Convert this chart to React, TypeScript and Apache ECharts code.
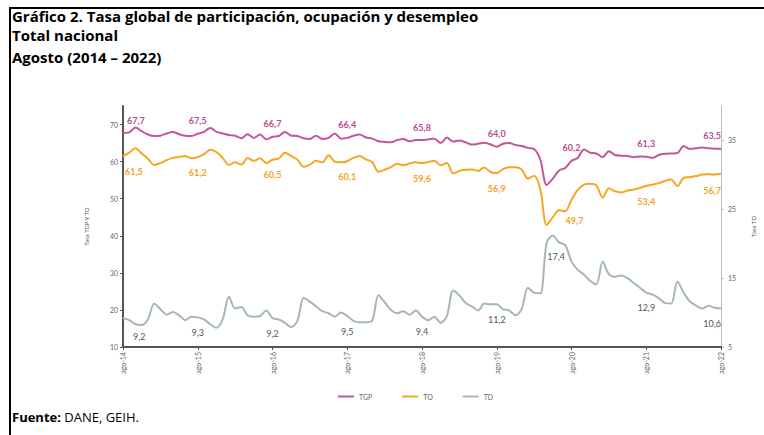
import React, { useEffect, useRef } from 'react';
import * as echarts from 'echarts';

const MONTHS = ['ene', 'feb', 'mar', 'abr', 'may', 'jun', 'jul', 'ago', 'sep', 'oct', 'nov', 'dic'];
const N_POINTS = 97;
const categories: string[] = [];
for (let i = 0; i < N_POINTS; i++) {
  const m = (7 + i) % 12;
  const y = 2014 + Math.floor((7 + i) / 12);
  categories.push(`${MONTHS[m]}-${String(y).slice(2)}`);
}

// Tasa global de participación (TGP), Aug 2014 – Aug 2022
const tgp = [
  67.7, 67.9, 69.2, 68.2, 67.3, 66.9, 67.0, 67.6, 68.0, 67.4, 67.0, 66.9,
  67.5, 68.0, 69.1, 68.0, 67.6, 67.2, 67.0, 66.3, 67.4, 66.4, 67.3, 66.0,
  66.7, 66.9, 68.0, 67.0, 66.9, 66.3, 66.1, 67.0, 66.1, 66.4, 67.6, 66.2,
  66.4, 67.0, 67.3, 66.5, 66.2, 65.5, 65.3, 65.2, 65.8, 66.1, 65.5, 65.8,
  65.8, 66.0, 66.2, 65.0, 66.5, 65.4, 65.7, 65.2, 64.6, 64.8, 65.1, 64.6,
  64.0, 64.8, 65.0, 64.5, 64.2, 63.7, 63.4, 60.5, 53.7, 55.4, 57.6, 58.3,
  60.2, 61.0, 63.3, 62.4, 62.2, 61.2, 62.8, 61.8, 61.6, 61.5, 61.2, 61.4,
  61.3, 61.0, 61.8, 62.1, 62.2, 62.3, 64.2, 63.4, 63.6, 63.8, 63.6, 63.5,
  63.5,
];

// Tasa de ocupación (TO)
const to = [
  61.5, 62.4, 63.6, 62.2, 60.8, 59.1, 59.6, 60.4, 61.0, 61.3, 61.5, 60.9,
  61.2, 62.0, 63.2, 62.6, 61.0, 59.1, 59.8, 59.2, 61.0, 60.2, 60.9, 59.6,
  60.5, 60.8, 62.4, 61.5, 60.5, 58.6, 59.2, 60.2, 59.8, 61.7, 60.0, 59.8,
  60.1, 61.0, 61.5, 60.6, 59.9, 57.3, 57.8, 58.5, 59.4, 59.0, 59.5, 59.8,
  59.6, 59.9, 60.2, 59.0, 59.6, 56.8, 57.5, 57.8, 57.9, 57.5, 58.4, 57.2,
  56.9, 58.0, 58.5, 58.5, 57.9, 55.4, 56.2, 52.5, 42.9, 45.0, 46.9, 46.6,
  49.7, 52.4, 53.8, 54.0, 53.6, 50.3, 52.8, 52.0, 51.7, 52.2, 52.5, 52.9,
  53.4, 53.8, 54.2, 54.8, 55.2, 53.4, 55.6, 55.8, 56.1, 56.5, 56.6, 56.5,
  56.7,
];

// Tasa de desempleo (TD)
const td = [
  9.2, 8.9, 8.3, 8.2, 9.0, 11.3, 10.5, 9.7, 10.1, 9.6, 8.9, 9.4,
  9.3, 9.0, 8.3, 7.8, 9.0, 12.3, 10.6, 10.8, 9.6, 9.4, 9.5, 10.3,
  9.2, 9.0, 8.5, 7.9, 8.8, 12.1, 11.6, 10.9, 10.2, 9.9, 9.4, 10.0,
  9.5, 8.8, 8.6, 8.6, 8.8, 12.5, 11.5, 10.4, 9.9, 10.2, 9.7, 10.3,
  9.4, 8.9, 9.4, 8.5, 9.5, 13.2, 12.5, 11.4, 10.9, 10.3, 11.3, 11.2,
  11.2, 10.5, 10.3, 9.6, 10.5, 13.6, 12.9, 12.8, 20.1, 21.2, 20.2, 19.8,
  17.4, 16.2, 15.5, 14.6, 14.1, 17.4, 15.6, 15.2, 15.4, 15.0, 14.3, 13.6,
  12.9, 12.6, 12.1, 11.4, 11.3, 14.5, 12.9, 11.6, 11.0, 10.6, 11.0, 10.7,
  10.6,
];

const FONT = 'Lato, "Open Sans", sans-serif';
const TFONT = '"Open Sans", Lato, sans-serif';
const fmt = (p: any) => Number(p.value).toFixed(1).replace('.', ',');

function withLabels(values: number[], base: any, overrides: Record<number, any>) {
  return values.map((v, i) => {
    if (i % 12 !== 0) return v;
    return { value: v, label: { show: true, formatter: fmt, ...base, ...(overrides[i] || {}) } };
  });
}

export default function App() {
  const ref = useRef<HTMLDivElement>(null);
  useEffect(() => {
    if (!ref.current) return;
    const chart = echarts.init(ref.current, undefined, { renderer: 'svg' });
    const last = N_POINTS - 1;
    const lineSeries = (name: string, color: string, yAxisIndex: number, data: any[]) => ({
      name,
      type: 'line',
      yAxisIndex,
      smooth: 0.3,
      symbol: 'circle',
      symbolSize: 1,
      showSymbol: true,
      lineStyle: { color, width: 2 },
      itemStyle: { color },
      emphasis: { disabled: true },
      data,
    });
    const titleStyle = (text: string) => ({
      text,
      fontFamily: TFONT,
      fontWeight: 'bold',
      fontSize: 15,
      lineHeight: 18,
      fill: '#000',
    });
    const option: any = {
      animation: false,
      backgroundColor: '#ffffff',
      textStyle: { fontFamily: FONT },
      grid: { left: 123, right: 31, top: 106, bottom: 88, containLabel: false },
      legend: {
        bottom: 30,
        left: 333,
        itemWidth: 16,
        itemHeight: 2,
        itemGap: 30,
        icon: 'rect',
        textStyle: { fontSize: 7, color: '#666', fontFamily: FONT },
        data: ['TGP', 'TO', 'TD'],
      },
      xAxis: {
        type: 'category',
        data: categories,
        boundaryGap: false,
        axisLine: { lineStyle: { color: '#555', width: 2 } },
        axisTick: { interval: 11, length: 3, lineStyle: { color: '#555' } },
        axisLabel: { interval: 11, rotate: 90, fontSize: 7, color: '#666', margin: 5, fontFamily: FONT },
        splitLine: { show: false },
      },
      yAxis: [
        {
          type: 'value',
          min: 10,
          max: 75,
          interval: 10,
          name: 'Tasa TGP Y TO',
          nameLocation: 'middle',
          nameGap: 34,
          nameTextStyle: { fontSize: 6, color: '#555', fontFamily: FONT },
          axisLine: { show: true, lineStyle: { color: '#555', width: 2 } },
          axisTick: { show: true, length: 3, lineStyle: { color: '#555' } },
          axisLabel: { fontSize: 7, color: '#666', margin: 5, showMaxLabel: false, fontFamily: FONT },
          splitLine: { show: false },
        },
        {
          type: 'value',
          min: 5,
          max: 40,
          interval: 10,
          name: 'Tasa TD',
          nameLocation: 'middle',
          nameGap: 29,
          nameRotate: 90,
          nameTextStyle: { fontSize: 6, color: '#555', fontFamily: FONT },
          axisLine: { show: true, lineStyle: { color: '#bbb', width: 1 } },
          axisTick: { show: true, length: 3, lineStyle: { color: '#bbb' } },
          axisLabel: { fontSize: 7, color: '#666', margin: 7, showMaxLabel: false, fontFamily: FONT },
          splitLine: { show: false },
        },
      ],
      series: [
        lineSeries('TGP', '#c4579b', 0, withLabels(
          tgp,
          { position: 'top', distance: 8, color: '#b84d8f', fontSize: 9, fontWeight: 'bold', fontFamily: FONT },
          { 0: { align: 'left', offset: [4, 0] }, [last]: { align: 'right', offset: [0, 0] } }
        )),
        lineSeries('TO', '#f6a623', 0, withLabels(
          to,
          { position: 'bottom', distance: 10, color: '#f2a31f', fontSize: 9, fontWeight: 'bold', fontFamily: FONT },
          {
            0: { align: 'left', offset: [2, 0] },
            72: { offset: [3, 6] },
            [last]: { align: 'right', offset: [0, 2] },
          }
        )),
        lineSeries('TD', '#a6b8b2', 1, withLabels(
          td,
          { position: 'bottom', distance: 10, color: '#555', fontSize: 9, fontFamily: FONT },
          {
            0: { align: 'left', offset: [10, 3] },
            72: { position: 'left', distance: 6, offset: [0, -5] },
            [last]: { align: 'right', offset: [0, 0] },
          }
        )),
      ],
      graphic: [
        { type: 'line', shape: { x1: 9, y1: 8, x2: 764, y2: 8 }, style: { stroke: '#000', lineWidth: 2 } },
        { type: 'line', shape: { x1: 10, y1: 8, x2: 10, y2: 435 }, style: { stroke: '#000', lineWidth: 2 } },
        { type: 'text', left: 12, top: 7, style: titleStyle('Gráfico 2. Tasa global de participación, ocupación y desempleo') },
        { type: 'text', left: 12, top: 26, style: titleStyle('Total nacional') },
        { type: 'text', left: 12, top: 48, style: titleStyle('Agosto (2014 – 2022)') },
        {
          type: 'text', left: 12, top: 410,
          style: {
            text: '{b|Fuente:} {n|DANE, GEIH.}',
            rich: {
              b: { fontFamily: TFONT, fontWeight: 'bold', fontSize: 13, lineHeight: 16, fill: '#000' },
              n: { fontFamily: TFONT, fontSize: 13, lineHeight: 16, fill: '#000' },
            },
          },
        },
      ],
    };
    chart.setOption(option);
    return () => chart.dispose();
  }, []);
  return <div ref={ref} style={{ position: 'fixed', left: 0, top: 0, width: 764, height: 435 }} />;
}
